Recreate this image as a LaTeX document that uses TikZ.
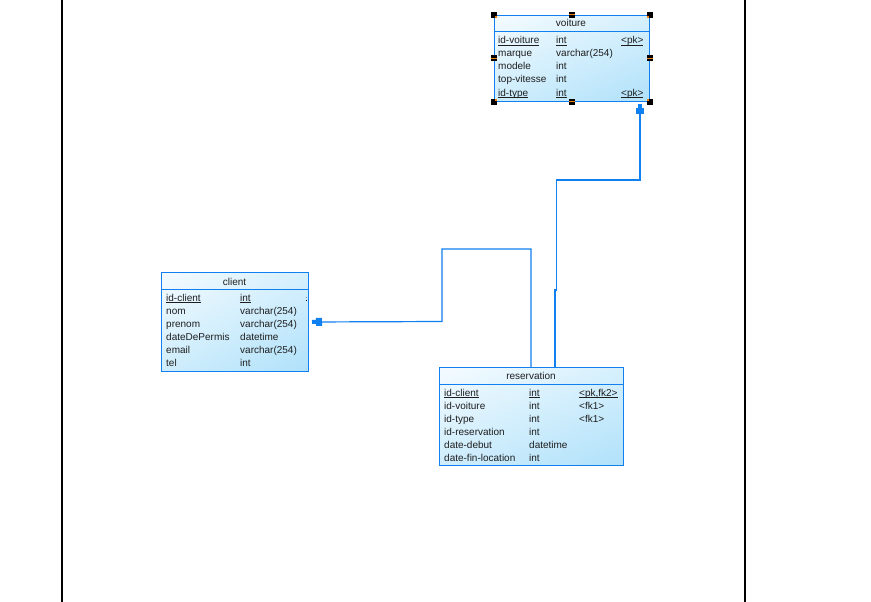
\documentclass[tikz,border=0pt]{standalone}
\usepackage{fontspec}
\setmainfont{Liberation Sans}
\usetikzlibrary{arrows.meta,calc,shadings}
\definecolor{erblue}{RGB}{16,128,240}
\definecolor{hlorange}{RGB}{240,130,20}
\definecolor{txtcol}{RGB}{30,30,30}
\definecolor{shUL}{RGB}{244,251,255}
\definecolor{shUR}{RGB}{214,240,253}
\definecolor{shLL}{RGB}{206,237,252}
\definecolor{shLR}{RGB}{176,225,250}
% key columns: a thin rule just under the baseline
\newcommand{\ulin}[1]{\setbox0\hbox{#1}\rlap{\rule[-1.4pt]{\wd0}{0.7pt}}\box0}
\begin{document}
\begin{tikzpicture}[x=1pt,y=-1pt,
  font=\fontsize{10}{12}\selectfont,
  tbl/.style={draw=erblue, line width=1pt, inner sep=0pt, anchor=north west,
    upper left=shUL, upper right=shUR, lower left=shLL, lower right=shLR},
  sepline/.style={draw=erblue, line width=1pt},
  txt/.style={anchor=base west, inner sep=0pt, text=txtcol},
  ttl/.style={anchor=base, inner sep=0pt, text=txtcol},
  link/.style={draw=erblue, line width=1.2pt},
  tipend/.style={-{Rectangle[length=6pt,width=8pt,sep=0pt]Rectangle[length=4pt,width=4pt,sep=0pt]}},
  handle/.style={fill=black, inner sep=0pt, minimum size=6pt},
  pageedge/.style={draw=black, line width=1.4pt}]

\useasboundingbox[fill=white] (0,0) rectangle (871,602);

% page borders
\draw[pageedge] (62,0) -- (62,602);
\draw[pageedge] (745,0) -- (745,602);

% ---------- table voiture ----------
\node[tbl, minimum width=155pt, minimum height=86pt] (voiture) at (494,15) {};
\draw[sepline] ($(voiture.north west)+(0,17)$) -- ($(voiture.north east)+(0,17)$);
\node[ttl] (vt) at (571,27) {voiture};
\node[txt] (v1a) at (498,44) {\ulin{id-voiture}};
\node[txt] (v1b) at (556,44) {\ulin{int}};
\node[txt] (v1c) at (621,44) {\ulin{<pk>}};
\node[txt] (v2a) at (498,57) {marque};
\node[txt] (v2b) at (556,57) {varchar(254)};
\node[txt] (v3a) at (498,70) {modele};
\node[txt] (v3b) at (556,70) {int};
\node[txt] (v4a) at (498,83) {top-vitesse};
\node[txt] (v4b) at (556,83) {int};
\node[txt] (v5a) at (498,96) {\ulin{id-type}};
\node[txt] (v5b) at (556,96) {\ulin{int}};
\node[txt] (v5c) at (621,96) {\ulin{<pk>}};

% selection handles around voiture
\foreach \a/\dx/\dy in {north west/2/2, north east/-2/2, south west/2/-2, south east/-2/-2}{
  \node[handle] (h-\a) at (voiture.\a) {};
  \fill[hlorange] ($(voiture.\a)+(\dx,\dy)+(-1,-1)$) rectangle ++(2,2);
}
\foreach \a in {north, south, west, east}{
  \node[handle] (h-\a) at (voiture.\a) {};
  \fill[hlorange] ($(voiture.\a)+(-3,-0.5)$) rectangle ++(6,1);
}

% ---------- table client ----------
\node[tbl, minimum width=147pt, minimum height=99pt] (client) at (161,272) {};
\draw[sepline] ($(client.north west)+(0,17)$) -- ($(client.north east)+(0,17)$);
\node[ttl] (ct) at (234.5,285) {client};
\node[txt] (c1a) at (166,301) {\ulin{id-client}};
\node[txt] (c1b) at (240,301) {\ulin{int}};
\node[txt] (c2a) at (166,314) {nom};
\node[txt] (c2b) at (240,314) {varchar(254)};
\node[txt] (c3a) at (166,327) {prenom};
\node[txt] (c3b) at (240,327) {varchar(254)};
\node[txt] (c4a) at (166,340) {dateDePermis};
\node[txt] (c4b) at (240,340) {datetime};
\node[txt] (c5a) at (166,353) {email};
\node[txt] (c5b) at (240,353) {varchar(254)};
\node[txt] (c6a) at (166,366) {tel};
\node[txt] (c6b) at (240,366) {int};
\fill[black!45] (306,296.5) rectangle ++(1,1);
\fill[black] (306,299.5) rectangle ++(1,1.2);

% ---------- table reservation ----------
\node[tbl, minimum width=184pt, minimum height=98pt] (reservation) at (439,367) {};
\draw[sepline] ($(reservation.north west)+(0,17)$) -- ($(reservation.north east)+(0,17)$);
\node[ttl] (rt) at (531,379) {reservation};
\node[txt] (r1a) at (444,396) {\ulin{id-client}};
\node[txt] (r1b) at (529,396) {\ulin{int}};
\node[txt] (r1c) at (579,396) {\ulin{<pk,fk2>}};
\node[txt] (r2a) at (444,409) {id-voiture};
\node[txt] (r2b) at (529,409) {int};
\node[txt] (r2c) at (579,409) {<fk1>};
\node[txt] (r3a) at (444,422) {id-type};
\node[txt] (r3b) at (529,422) {int};
\node[txt] (r3c) at (579,422) {<fk1>};
\node[txt] (r4a) at (444,435) {id-reservation};
\node[txt] (r4b) at (529,435) {int};
\node[txt] (r5a) at (444,448) {date-debut};
\node[txt] (r5b) at (529,448) {datetime};
\node[txt] (r6a) at (444,461) {date-fin-location};
\node[txt] (r6b) at (529,461) {int};

% ---------- references ----------
% reservation -> client
\draw[link, tipend, shorten >=3pt]
  (reservation.north west) ++(92,0) -- ++(0,-118) -- ++(-89,0) -- ++(0,72.5) -- (client.east);
% reservation -> voiture
\draw[link] (reservation.north west) ++(116,0) -- ++(0,-78);
\draw[link, tipend, shorten >=2pt]
  (reservation.north west) ++(117.5,-76) -- ++(0,-111) -| ($(voiture.south west)+(146,0)$);

\end{tikzpicture}
\end{document}
